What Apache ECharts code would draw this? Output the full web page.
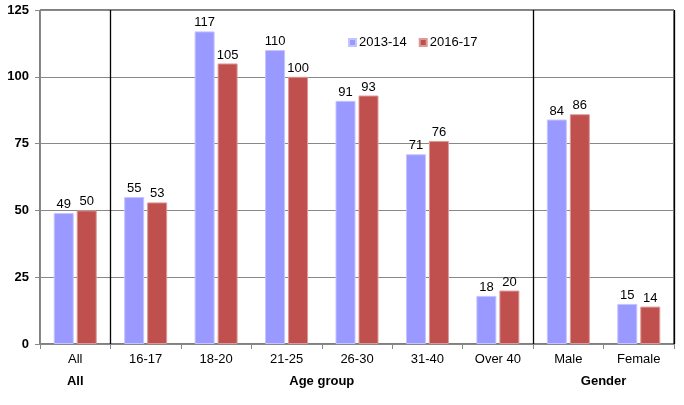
<!DOCTYPE html>
<html>
<head>
<meta charset="utf-8">
<script src="https://cdn.jsdelivr.net/npm/echarts@6/dist/echarts.min.js"></script>
<style>html,body{margin:0;padding:0;background:#fff}#c{width:684px;height:405px}</style>
</head>
<body>
<div id="c"></div>
<script>
const categories = ['All','16-17','18-20','21-25','26-30','31-40','Over 40','Male','Female'];
const series2013 = [49,55,117,110,91,71,18,84,15];
const series2017 = [50,53,105,100,93,76,20,86,14];
const seriesNames = ['2013-14','2016-17'];
const groupNames = ['All','Age group','Gender'];
const groupSpans = [1,6,2];
const yTicks = [0,25,50,75,100,125];

// group boundaries and centres derived from spans
const groupStarts = [];
let acc = 0;
groupSpans.forEach(s => { groupStarts.push(acc); acc += s; });
const groupCentres = groupStarts.map((s,i) => s + groupSpans[i]/2);
const separatorIdx = groupStarts.slice(1);

const font = 'Liberation Sans, Arial, sans-serif';
const chart = echarts.init(document.getElementById('c'), null, {renderer:'canvas'});
chart.setOption({
  animation: false,
  backgroundColor: '#fff',
  legend: {
    left: 343, top: 31,
    itemWidth: 7, itemHeight: 7, itemGap: 12,
    icon: 'rect',
    textStyle: {fontFamily: font, fontSize: 13, color: '#000', padding: [0,0,0,-2]},
    data: seriesNames
  },
  grid: {left: 40, right: 10, top: 10, bottom: 61, show: true, borderColor: '#000', borderWidth: 1},
  xAxis: [{
    type: 'category',
    data: categories,
    boundaryGap: true,
    axisLine: {lineStyle: {color: '#888', width: 1}},
    axisTick: {show: true, interval: 0, length: 5, lineStyle: {color: '#888'}},
    axisLabel: {interval: 0, margin: 9, fontFamily: font, fontSize: 13, color: '#000'},
    splitLine: {show: true, interval: (idx) => separatorIdx.indexOf(idx) >= 0, lineStyle: {color: '#000', width: 1.3}}
  },{
    type: 'value',
    position: 'bottom',
    offset: 22,
    min: 0, max: categories.length, interval: 0.5,
    axisLine: {show: false}, axisTick: {show: false}, splitLine: {show: false},
    axisLabel: {
      margin: 9, fontFamily: font, fontSize: 13, fontWeight: 'bold', color: '#000',
      showMinLabel: true, showMaxLabel: true,
      formatter: (v) => { const i = groupCentres.indexOf(v); return i >= 0 ? groupNames[i] : ''; }
    }
  }],
  yAxis: {
    type: 'value',
    min: yTicks[0], max: yTicks[yTicks.length-1], interval: yTicks[1]-yTicks[0],
    axisLine: {show: true, lineStyle: {color: '#888'}},
    axisTick: {show: true, length: 5, lineStyle: {color: '#888'}},
    axisLabel: {margin: 11, fontFamily: font, fontSize: 13, fontWeight: 'bold', color: '#000'},
    splitLine: {lineStyle: {color: '#888', width: 1}}
  },
  series: [{
    name: seriesNames[0], type: 'bar', data: series2013,
    barWidth: 20, barGap: '15%',
    itemStyle: {color: '#9999FF', borderColor: '#C4C4FF', borderWidth: 1},
    label: {show: true, position: 'top', distance: 2, fontFamily: font, fontSize: 13, color: '#000'}
  },{
    name: seriesNames[1], type: 'bar', data: series2017,
    barWidth: 20, barGap: '15%',
    itemStyle: {color: '#C0504D', borderColor: '#DC9A98', borderWidth: 1},
    label: {show: true, position: 'top', distance: 2, fontFamily: font, fontSize: 13, color: '#000'}
  }]
});
</script>
</body>
</html>
